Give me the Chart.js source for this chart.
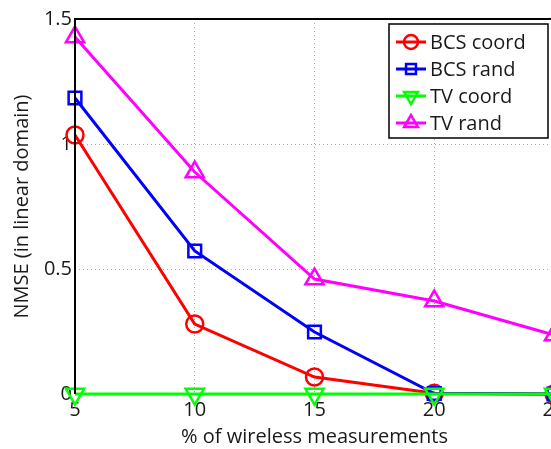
<!DOCTYPE html>
<html>
<head>
<meta charset="utf-8">
<script src="https://cdn.jsdelivr.net/npm/chart.js@4"></script>
<style>
  html, body { margin: 0; padding: 0; background: #fff; overflow: hidden; }
  #wrap { width: 551px; height: 449px; overflow: hidden; }
</style>
</head>
<body>
<div id="wrap"><canvas id="c" width="600" height="449"></canvas></div>
<script>
// % of wireless measurements
const measurements = [5, 10, 15, 20, 25];
const bcsCoord = [1.036, 0.28, 0.068, 0.003, 0];
const bcsRand = [1.184, 0.572, 0.248, 0.002, 0];
const tvCoord = [0, 0, 0, 0, 0];
const tvRand = [1.428, 0.888, 0.46, 0.372, 0.236];
const seriesNames = ["BCS coord", "BCS rand", "TV coord", "TV rand"];

const FONT = "'Open Sans', 'DejaVu Sans', sans-serif";
const TXT = "#1a1a1a";

function pts(vals) {
  return vals.map((v, i) => ({ x: measurements[i], y: v }));
}

function mkSet(label, vals, color, style, rot, radius, order) {
  return {
    label: label,
    data: pts(vals),
    borderColor: color,
    backgroundColor: color,
    borderWidth: 3,
    pointStyle: style,
    rotation: rot,
    pointRadius: radius,
    pointBorderWidth: 2.5,
    pointBackgroundColor: "rgba(0,0,0,0)",
    pointBorderColor: color,
    order: order,
    clip: false,
  };
}

const datasets = [
  mkSet(seriesNames[0], bcsCoord, "#ff0000", "circle", 0, 8.5, 4),
  mkSet(seriesNames[1], bcsRand, "#0000ff", "rect", 0, 9, 3),
  mkSet(seriesNames[2], tvCoord, "#00ff00", "triangle", 180, 10.5, 2),
  mkSet(seriesNames[3], tvRand, "#ff00ff", "triangle", 0, 10.5, 1),
];

// frame + legend box like matlab
const boxPlugin = {
  id: "boxPlugin",
  afterDraw(chart) {
    const ctx = chart.ctx;
    const a = chart.chartArea;
    ctx.save();
    ctx.strokeStyle = "#000";
    ctx.lineWidth = 2;
    ctx.beginPath();
    ctx.moveTo(a.left, a.bottom);
    ctx.lineTo(a.left, a.top);
    ctx.lineTo(a.right, a.top);
    ctx.stroke();

    // legend
    const lx = 389, ly = 24, lw = 159, lh = 114;
    ctx.fillStyle = "#fff";
    ctx.fillRect(lx, ly, lw, lh);
    ctx.lineWidth = 1.5;
    ctx.strokeStyle = "#000";
    ctx.strokeRect(lx, ly, lw, lh);
    ctx.font = "20px " + FONT;
    ctx.textBaseline = "middle";
    chart.data.datasets.forEach((ds, i) => {
      const y = 42 + i * 27;
      ctx.strokeStyle = ds.borderColor;
      ctx.lineWidth = 3;
      ctx.beginPath();
      ctx.moveTo(396, y);
      ctx.lineTo(426, y);
      ctx.stroke();
      ctx.lineWidth = 2.5;
      ctx.fillStyle = "rgba(0,0,0,0)";
      Chart.helpers.drawPoint(ctx, {
        pointStyle: ds.pointStyle,
        rotation: ds.rotation,
        radius: ds.pointStyle === "triangle" ? 8 : 7,
        borderWidth: 2.5,
      }, 411, y);
      ctx.fillStyle = TXT;
      ctx.fillText(ds.label, 430, y + 1);
    });
    ctx.restore();
  },
};

const gridColor = (c) => {
  const v = c.tick ? c.tick.value : null;
  return (c.index === 0 || v === 25 || v === 1.5) ? "rgba(0,0,0,0)" : "#aaaaaa";
};

new Chart(document.getElementById("c"), {
  type: "line",
  data: { datasets: datasets },
  options: {
    responsive: false,
    animation: false,
    devicePixelRatio: 1,
    layout: { padding: { top: 19, right: 46, left: 10, bottom: 0 } },
    plugins: {
      legend: { display: false },
      tooltip: { enabled: false },
    },
    scales: {
      x: {
        type: "linear",
        min: 5,
        max: 25,
        ticks: {
          stepSize: 5,
          color: TXT,
          font: { family: FONT, size: 20 },
          padding: 4,
          maxRotation: 0,
        },
        grid: { color: gridColor, drawTicks: false, lineWidth: 1 },
        border: { display: false, dash: [1, 3] },
        title: {
          display: true,
          text: "% of wireless measurements",
          color: TXT,
          font: { family: FONT, size: 20 },
          padding: { top: 0, bottom: 0 },
        },
        afterFit(s) {
          s.height = 55;
          s.paddingLeft = 0;
          s.paddingRight = 0;
        },
      },
      y: {
        min: 0,
        max: 1.5,
        ticks: {
          stepSize: 0.5,
          color: TXT,
          font: { family: FONT, size: 20 },
          padding: 3,
          callback: (v) => String(v),
        },
        grid: { color: gridColor, drawTicks: false, lineWidth: 1 },
        border: { display: false, dash: [1, 3] },
        title: {
          display: true,
          text: "NMSE (in linear domain)",
          color: TXT,
          font: { family: FONT, size: 20 },
          padding: { top: 0, bottom: 4 },
        },
        afterFit(s) {
          s.width = 65;
          s.paddingTop = 0;
          s.paddingBottom = 0;
        },
      },
    },
  },
  plugins: [boxPlugin],
});
</script>
</body>
</html>
